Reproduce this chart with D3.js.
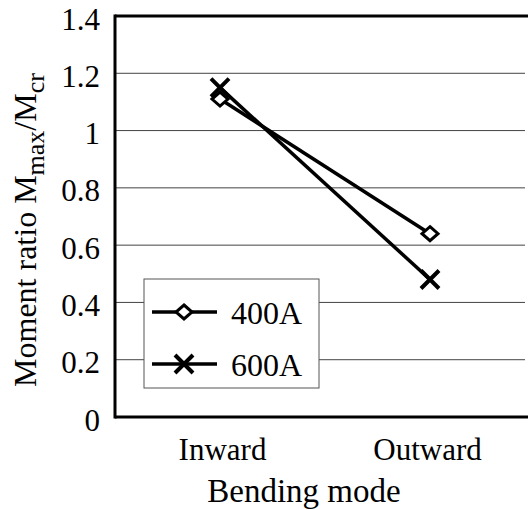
<!DOCTYPE html>
<html><head><meta charset="utf-8">
<script src="https://cdn.jsdelivr.net/npm/d3@7"></script>
</head><body style="margin:0">
<svg id="c" width="528" height="510"></svg>
<script>
const categories = ["Inward", "Outward"];
const seriesNames = ["400A", "600A"];
const values400A = [1.11, 0.64];
const values600A = [1.15, 0.48];
const yTicks = [0, 0.2, 0.4, 0.6, 0.8, 1, 1.2, 1.4];

const FONT = '"Liberation Serif", Tinos, "Times New Roman", "DejaVu Serif", serif';
const svg = d3.select("#c").attr("font-family", FONT);
const L = 115, T = 16, R = 528, B = 417;
const x = d3.scalePoint().domain(categories).range([L, 535]).padding(0.5);
const y = d3.scaleLinear().domain([0, 1.4]).range([B, T]);

function txt(sel, size) {
  return sel.attr("font-family", FONT).style("font-family", FONT)
    .attr("font-size", size).style("font-size", size + "px").attr("fill", "#000");
}

// gridlines
svg.append("g").selectAll("line").data(yTicks.filter(t => t > 0 && t < 1.4)).join("line")
  .attr("x1", L).attr("x2", 525).attr("y1", d => y(d)).attr("y2", d => y(d))
  .attr("stroke", "#444").attr("stroke-width", 1);

// axes
const yAxis = d3.axisLeft(y).tickValues(yTicks).tickSize(0).tickPadding(15).tickFormat(d => String(+d.toFixed(1)));
const gy = svg.append("g").attr("transform", `translate(${L},0)`).call(yAxis);
gy.attr("font-family", FONT).attr("font-size", 31);
gy.select(".domain").remove();
txt(gy.selectAll("text"), 31).attr("dy", "0.42em");

const xAxis = d3.axisBottom(x).tickSize(0);
const gx = svg.append("g").attr("transform", `translate(0,${B})`).call(xAxis);
gx.attr("font-family", FONT).attr("font-size", 31);
gx.select(".domain").remove();
txt(gx.selectAll("text"), 31).attr("y", 43).attr("dy", 0).attr("dx", (d, i) => i === 0 ? 2 : -3);

svg.append("line").attr("x1", L).attr("x2", L).attr("y1", T - 1.5).attr("y2", B + 1.5).attr("stroke", "#000").attr("stroke-width", 3);
svg.append("line").attr("x1", L).attr("x2", R).attr("y1", B).attr("y2", B).attr("stroke", "#000").attr("stroke-width", 3);
svg.append("line").attr("x1", L).attr("x2", R).attr("y1", T).attr("y2", T).attr("stroke", "#000").attr("stroke-width", 3);

// series
const series = [
  {name: seriesNames[0], vals: values400A, marker: "diamond"},
  {name: seriesNames[1], vals: values600A, marker: "x"}
];
const line = d3.line().x((d, i) => x(categories[i])).y(d => y(d));
function drawMarker(g, type, cx, cy) {
  if (type === "diamond") {
    g.append("path").attr("d", `M${cx},${cy-7}L${cx+8},${cy}L${cx},${cy+7}L${cx-8},${cy}Z`)
      .attr("fill", "#fff").attr("stroke", "#000").attr("stroke-width", 3);
  } else {
    g.append("path").attr("d", `M${cx-9},${cy-9}L${cx+9},${cy+9}M${cx+9},${cy-9}L${cx-9},${cy+9}`)
      .attr("stroke", "#000").attr("stroke-width", 4).attr("fill", "none");
  }
}
series.forEach(s => {
  svg.append("path").datum(s.vals).attr("d", line).attr("fill", "none").attr("stroke", "#000").attr("stroke-width", 3.5);
});
series.forEach(s => {
  const g = svg.append("g");
  s.vals.forEach((v, i) => drawMarker(g, s.marker, x(categories[i]), y(v)));
});

// legend
const lg = svg.append("g");
lg.append("rect").attr("x", 144).attr("y", 279).attr("width", 175).attr("height", 109)
  .attr("fill", "#fff").attr("stroke", "#555").attr("stroke-width", 1);
series.forEach((s, i) => {
  const ly = 312 + i * 52;
  lg.append("line").attr("x1", 152).attr("x2", 217).attr("y1", ly).attr("y2", ly).attr("stroke", "#000").attr("stroke-width", 3.5);
  drawMarker(lg, s.marker, 184, ly);
  txt(lg.append("text").attr("x", 231).attr("y", ly).attr("dy", "0.36em"), 32).text(s.name);
});

// axis titles
txt(svg.append("text").attr("x", 304).attr("y", 502).attr("text-anchor", "middle"), 33).text("Bending mode");
const yt = txt(svg.append("text").attr("transform", `translate(36,230) rotate(-90)`).attr("text-anchor", "middle"), 32);
yt.append("tspan").text("Moment ratio M");
yt.append("tspan").attr("dy", 8).style("font-size", "26px").text("max");
yt.append("tspan").attr("dy", -8).text("/M");
yt.append("tspan").attr("dy", 8).style("font-size", "26px").text("cr");
</script>
</body></html>
